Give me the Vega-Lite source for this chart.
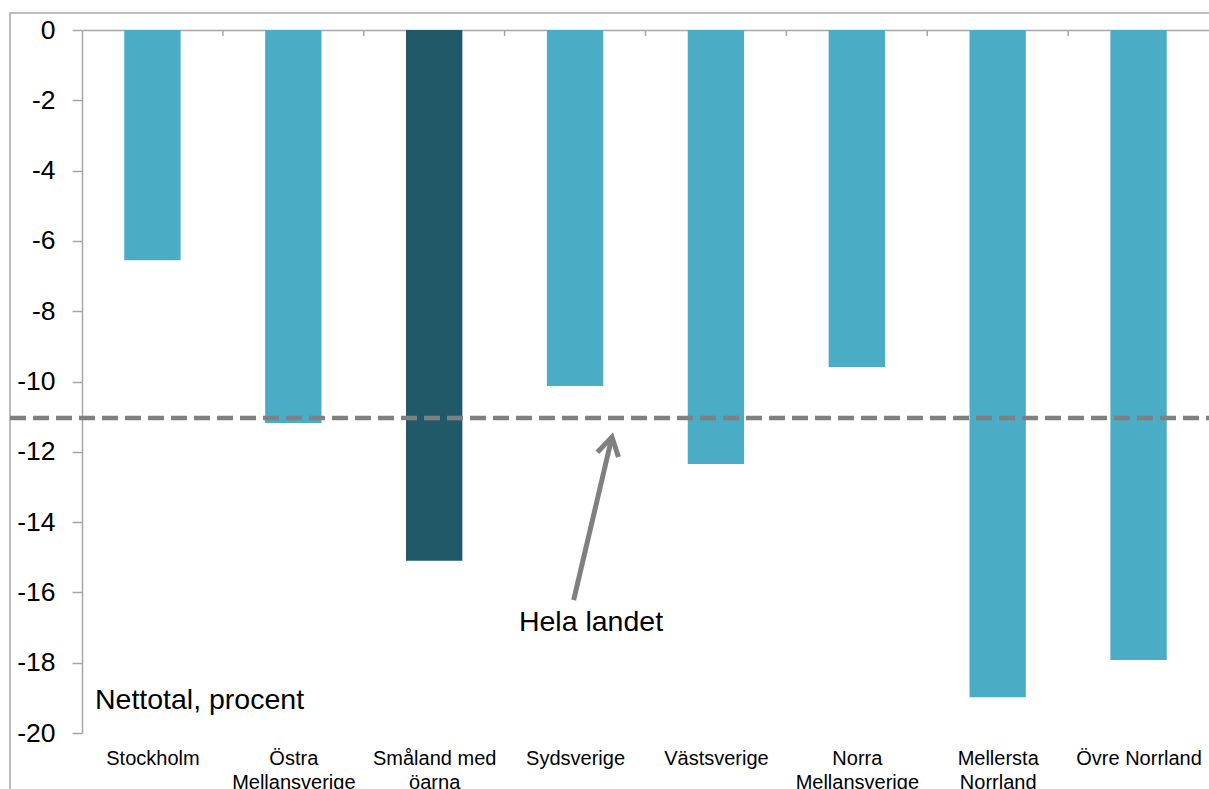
{
  "$schema": "https://vega.github.io/schema/vega-lite/v6.json",
  "width": 1127,
  "height": 703,
  "autosize": "none",
  "padding": {"left": 82, "top": 30, "right": 0, "bottom": 56},
  "background": "white",
  "config": {"view": {"stroke": null}, "font": "Liberation Sans"},
  "data": {
    "values": [
      {"region": "Stockholm", "value": -6.55},
      {"region": "Östra Mellansverige", "value": -11.18},
      {"region": "Småland med öarna", "value": -15.1},
      {"region": "Sydsverige", "value": -10.13},
      {"region": "Västsverige", "value": -12.35},
      {"region": "Norra Mellansverige", "value": -9.59},
      {"region": "Mellersta Norrland", "value": -18.98},
      {"region": "Övre Norrland", "value": -17.92}
    ]
  },
  "layer": [
    {
      "mark": {"type": "bar"},
      "encoding": {
        "x": {
          "field": "region", "type": "nominal", "sort": null,
          "scale": {"paddingInner": 0.6, "paddingOuter": 0.3},
          "axis": {
            "orient": "top", "labels": false, "title": null, "domain": true,
            "domainColor": "#A6A6A6", "domainWidth": 1.5, "ticks": false
          }
        },
        "y": {
          "field": "value", "type": "quantitative",
          "scale": {"domain": [-20, 0], "nice": false},
          "axis": {
            "orient": "left",
            "tickCount": 10,
            "labelExpr": "datum.value < 0 ? '-' + abs(datum.value) : '' + datum.value",
            "title": null, "grid": false, "labelFontSize": 26.5, "labelColor": "#000000",
            "labelPadding": 17, "tickSize": 10, "tickColor": "#A6A6A6", "tickWidth": 1.5,
            "domain": true, "domainColor": "#A6A6A6", "domainWidth": 1.5
          }
        },
        "color": {
          "condition": {"test": "datum.region === 'Småland med öarna'", "value": "#215968"},
          "value": "#4BACC6"
        }
      }
    },
    {
      "mark": {"type": "text", "text": ""},
      "encoding": {
        "x": {
          "field": "region", "type": "nominal", "sort": null,
          "scale": {"paddingInner": 0.6, "paddingOuter": 0.3},
          "axis": {
            "orient": "bottom", "title": null, "domain": false, "ticks": false,
            "labelFontSize": 20, "labelColor": "#000000", "labelPadding": 15,
            "labelLineHeight": 24, "labelAngle": 0,
            "labelExpr": "datum.label == 'Östra Mellansverige' ? ['Östra', 'Mellansverige'] : datum.label == 'Småland med öarna' ? ['Småland med', 'öarna'] : datum.label == 'Norra Mellansverige' ? ['Norra', 'Mellansverige'] : datum.label == 'Mellersta Norrland' ? ['Mellersta', 'Norrland'] : datum.label"
          }
        }
      }
    },
    {
      "data": {"values": [{"b": 1}, {"b": 2}, {"b": 3}, {"b": 4}, {"b": 5}, {"b": 6}, {"b": 7}]},
      "mark": {"type": "rule", "stroke": "#A6A6A6", "strokeWidth": 1.5},
      "encoding": {
        "x": {"field": "b", "type": "quantitative", "scale": {"domain": [0, 8], "nice": false, "zero": false}, "axis": null},
        "y": {"datum": 0, "type": "quantitative", "axis": {"title": null}},
        "y2": {"datum": -0.17}
      }
    },
    {
      "data": {"values": [{}]},
      "mark": {"type": "rect", "filled": false, "stroke": "#A6A6A6", "strokeWidth": 1.5},
      "encoding": {
        "x": {"datum": -0.511, "type": "quantitative", "scale": {"domain": [0, 8], "nice": false, "zero": false}, "axis": null},
        "x2": {"datum": 9},
        "y": {"datum": 0.484, "type": "quantitative", "axis": {"title": null}},
        "y2": {"datum": -25}
      }
    },
    {
      "data": {"values": [{}]},
      "mark": {"type": "rule", "stroke": "#808080", "strokeWidth": 4.5, "strokeDash": [16, 7]},
      "encoding": {
        "x": {"datum": -0.511, "type": "quantitative", "scale": {"domain": [0, 8], "nice": false, "zero": false}, "axis": null},
        "x2": {"datum": 8.6},
        "y": {"datum": -11.04, "type": "quantitative", "axis": {"title": null}}
      }
    },
    {
      "data": {"values": [{"x": 3.49, "y": -16.22}, {"x": 3.762, "y": -11.58}]},
      "mark": {"type": "line", "stroke": "#808080", "strokeWidth": 5},
      "encoding": {
        "x": {"field": "x", "type": "quantitative", "scale": {"domain": [0, 8], "nice": false, "zero": false}, "axis": null},
        "y": {"field": "y", "type": "quantitative", "axis": {"title": null}}
      }
    },
    {
      "data": {"values": [{"x": 3.762, "y": -11.58}]},
      "mark": {"type": "point", "shape": "M -0.6 1 L 0 0 L 0.6 1", "filled": false, "stroke": "#808080", "strokeWidth": 5, "size": 1296, "angle": 13, "opacity": 1, "strokeJoin": "miter"},
      "encoding": {
        "x": {"field": "x", "type": "quantitative", "scale": {"domain": [0, 8], "nice": false, "zero": false}, "axis": null},
        "y": {"field": "y", "type": "quantitative", "axis": {"title": null}}
      }
    },
    {
      "data": {"values": [{"label": "Hela landet", "x": 3.613, "y": -16.84}]},
      "mark": {"type": "text", "fontSize": 28.5, "align": "center", "baseline": "middle", "color": "#000000"},
      "encoding": {
        "x": {"field": "x", "type": "quantitative", "scale": {"domain": [0, 8], "nice": false, "zero": false}, "axis": null},
        "y": {"field": "y", "type": "quantitative", "axis": {"title": null}},
        "text": {"field": "label"}
      }
    },
    {
      "data": {"values": [{"label": "Nettotal, procent", "x": 0.092, "y": -19.06}]},
      "mark": {"type": "text", "fontSize": 28.5, "align": "left", "baseline": "middle", "color": "#000000"},
      "encoding": {
        "x": {"field": "x", "type": "quantitative", "scale": {"domain": [0, 8], "nice": false, "zero": false}, "axis": null},
        "y": {"field": "y", "type": "quantitative", "axis": {"title": null}},
        "text": {"field": "label"}
      }
    }
  ],
  "resolve": {"scale": {"x": "independent"}, "axis": {"x": "independent"}}
}
